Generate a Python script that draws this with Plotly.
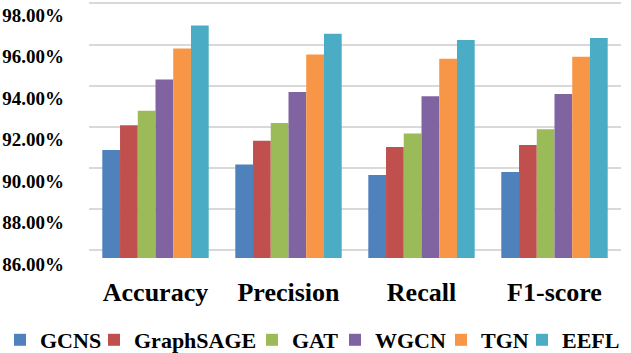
import plotly.graph_objects as go

# ---------------- data ----------------
categories = ["Accuracy", "Precision", "Recall", "F1-score"]
models = ["GCNS", "GraphSAGE", "GAT", "WGCN", "TGN", "EEFL"]
gcns = [91.2, 90.5, 90.0, 90.15]
graphsage = [92.4, 91.65, 91.35, 91.45]
gat = [93.1, 92.5, 92.0, 92.2]
wgcn = [94.6, 94.0, 93.8, 93.9]
tgn = [96.1, 95.8, 95.6, 95.7]
eefl = [97.2, 96.8, 96.5, 96.6]
y_ticks = [86, 88, 90, 92, 94, 96, 98]

series = [gcns, graphsage, gat, wgcn, tgn, eefl]
colors = ["#4F81BD", "#C0504D", "#9BBB59", "#8064A2", "#F79646", "#4BACC6"]

W, H = 631, 353
FONT = "Liberation Serif, Times New Roman, serif"
legend_text_px = [40, 134, 292, 375, 481, 562]
legend_center_y = 340

fig = go.Figure()
for i, (name, vals) in enumerate(zip(models, series)):
    lg = "legend" if i == 0 else f"legend{i+1}"
    fig.add_trace(go.Bar(
        x=categories, y=vals, name=name,
        marker=dict(color=colors[i], line=dict(width=0)),
        legend=lg,
    ))

# invisible trace to carry the back-plane gridlines axis
fig.add_trace(go.Scatter(x=categories, y=[None] * len(categories), yaxis="y2",
                         showlegend=False, hoverinfo="skip"))

layout_legends = {}
for i in range(len(models)):
    key = "legend" if i == 0 else f"legend{i+1}"
    layout_legends[key] = dict(
        x=(legend_text_px[i] - 40) / W, xref="container", xanchor="left",
        y=(H - legend_center_y) / H, yref="container", yanchor="middle",
        orientation="h", bgcolor="rgba(0,0,0,0)", borderwidth=0,
        font=dict(family=FONT, size=22, color="#000000", weight="bold"),
        itemwidth=30,
    )

shift = 0.384
fig.update_layout(
    width=W, height=H,
    margin=dict(l=89, r=10, t=1, b=95, autoexpand=False),
    paper_bgcolor="white", plot_bgcolor="white",
    barmode="group", bargap=0.2, bargroupgap=0,
    font=dict(family=FONT, color="#000000"),
    xaxis=dict(
        showgrid=False, showline=False, zeroline=False, ticks="",
        tickfont=dict(family=FONT, size=26, color="#000000", weight="bold"),
        ticklabelstandoff=16,
    ),
    yaxis=dict(
        range=[86, 98 + shift], tickvals=y_ticks,
        ticktext=[f"{v:.2f}%" for v in y_ticks],
        showgrid=False, showline=False, zeroline=False, ticks="",
        tickfont=dict(family=FONT, size=19, color="#000000", weight="bold"),
        ticklabelstandoff=24, ticklabelshift=6, automargin=False,
    ),
    yaxis2=dict(
        overlaying="y", range=[86 - shift, 98.12], tickvals=y_ticks,
        showgrid=True, gridcolor="#d9d9d9", gridwidth=1.5,
        showticklabels=False, showline=False, zeroline=False, ticks="",
    ),
    showlegend=True,
    **layout_legends,
)

fig.write_html("out.html")
